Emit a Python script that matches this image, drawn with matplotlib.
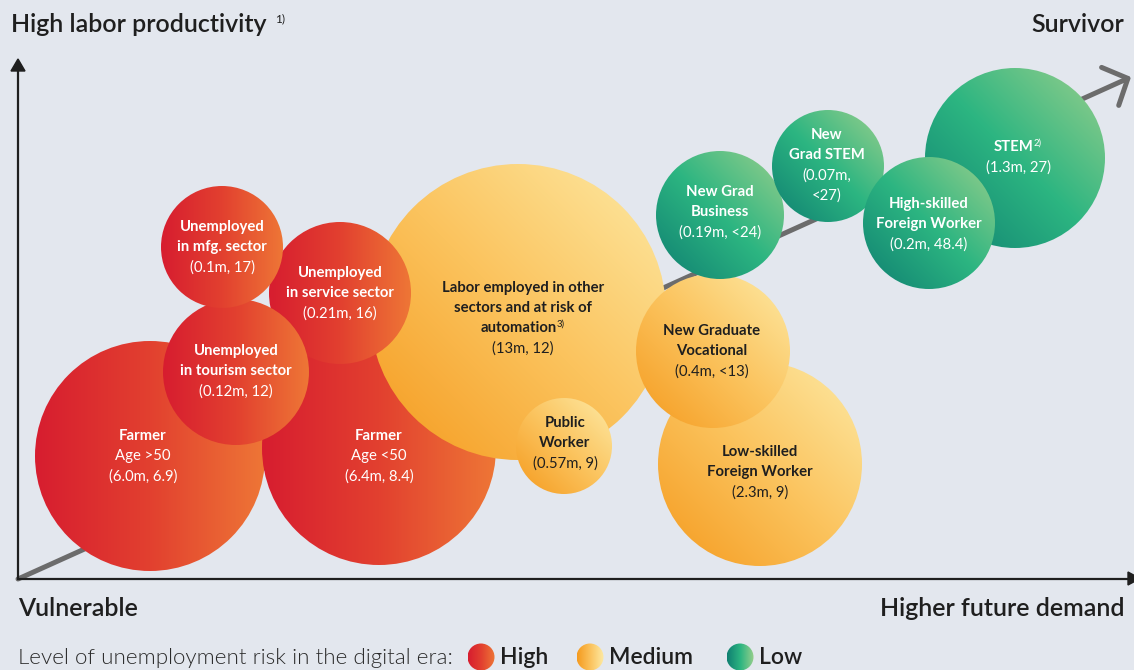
import numpy as np
import matplotlib
matplotlib.use("Agg")
import matplotlib.pyplot as plt
from matplotlib.patches import Circle, Polygon
from matplotlib.colors import LinearSegmentedColormap

plt.rcParams['font.family'] = ['Lato', 'DejaVu Sans']

# ---------------- data ----------------
names = ["Farmer Age >50", "Farmer Age <50", "Labor at risk of automation", "Public Worker",
         "Unemployed service", "Unemployed tourism", "Unemployed mfg.",
         "Low-skilled Foreign Worker", "New Graduate Vocational",
         "New Grad Business", "New Grad STEM", "STEM", "High-skilled Foreign Worker"]
bold_lines = [["Farmer"], ["Farmer"],
              ["Labor employed in other", "sectors and at risk of", "automation"],
              ["Public", "Worker"],
              ["Unemployed", "in service sector"], ["Unemployed", "in tourism sector"],
              ["Unemployed", "in mfg. sector"],
              ["Low-skilled", "Foreign Worker"], ["New Graduate", "Vocational"],
              ["New Grad", "Business"], ["New", "Grad STEM"], ["STEM"],
              ["High-skilled", "Foreign Worker"]]
regular_lines = [["Age >50", "(6.0m, 6.9)"], ["Age <50", "(6.4m, 8.4)"], ["(13m, 12)"],
                 ["(0.57m, 9)"], ["(0.21m, 16)"], ["(0.12m, 12)"], ["(0.1m, 17)"],
                 ["(2.3m, 9)"], ["(0.4m, <13)"], ["(0.19m, <24)"], ["(0.07m,", "<27)"],
                 ["(1.3m, 27)"], ["(0.2m, 48.4)"]]
footnotes = ["", "", "3)", "", "", "", "", "", "", "", "", "2)", ""]
risk = ["High", "High", "Medium", "Medium", "High", "High", "High",
        "Medium", "Medium", "Low", "Low", "Low", "Low"]
# bubble placement (pixel-like units)
bubble_x = [150, 379, 518, 564, 340, 236, 222, 760, 713, 720, 828, 1015, 929]
bubble_y = [456, 448, 312, 446, 293, 372, 247, 464, 351, 215, 166, 158, 223]
bubble_r = [115, 117, 148, 48, 71, 73, 61, 102, 77, 64, 56, 90, 66]
label_x = [143, 379, 523, 565, 340, 236, 222, 760, 712, 720, 827, 1018, 929]
label_y = [456, 456, 318, 443, 293, 371, 247, 472, 351, 212, 165, 157, 224]

legend_levels = ["High", "Medium", "Low"]

# ---------------- styles ----------------
BG = '#e3e7ee'
DARK = '#1f1f1f'
cmaps = {
    "High": LinearSegmentedColormap.from_list("h", ['#d71d30', '#e2402f', '#ee7636']),
    "Medium": LinearSegmentedColormap.from_list("m", ['#f59a1e', '#fbc35d', '#fdeaa5']),
    "Low": LinearSegmentedColormap.from_list("l", ['#0f7f71', '#2cb581', '#98cf8c']),
}
text_colors = {"High": 'white', "Medium": DARK, "Low": 'white'}

fig = plt.figure(figsize=(11.34, 6.70), dpi=100, facecolor=BG)
ax = fig.add_axes([0, 0, 1, 1])
ax.set_facecolor(BG)
ax.set_xlim(0, 1134)
ax.set_ylim(670, 0)
ax.axis('off')

N = 300
u = np.linspace(0, 1, N)[None, :].repeat(N, 0)
v = np.linspace(0, 1, N)[:, None].repeat(N, 1)


def grad(level, horizontal=False):
    if level == "High" or horizontal:
        t = u
    else:
        t = (u + (1 - v)) / 2
    return t


def gradient_circle(x, y, r, level, z, horizontal=False):
    circ = Circle((x, y), r, facecolor='none', edgecolor='none', zorder=z)
    ax.add_patch(circ)
    im = ax.imshow(grad(level, horizontal), cmap=cmaps[level], vmin=0, vmax=1,
                   extent=(x - r, x + r, y + r, y - r), origin='upper',
                   interpolation='bilinear', zorder=z, aspect='auto')
    im.set_clip_path(circ)


# trend arrow (behind bubbles)
ax.annotate('', xy=(1131, 77), xytext=(18, 579),
            arrowprops=dict(arrowstyle='->,head_length=0.7,head_width=0.75',
                            lw=3.6, color='#6c6c6c', shrinkA=0, shrinkB=0,
                            mutation_scale=20), zorder=1)

# axes
ax.plot([18, 18], [579, 68], color='#1f1f1f', lw=1.6, zorder=30, solid_capstyle='butt')
ax.add_patch(Polygon([(11, 71), (25, 71), (18, 59)], closed=True, color='#1f1f1f', zorder=30))
ax.plot([17, 1130], [578.5, 578.5], color='#1f1f1f', lw=1.6, zorder=30, solid_capstyle='butt')
ax.add_patch(Polygon([(1128, 572), (1128, 585), (1140, 578.5)], closed=True, color='#1f1f1f', zorder=30))

fig.canvas.draw()
renderer = fig.canvas.get_renderer()
inv = ax.transData.inverted()

LS = 20.3
FS = 10.7
for i in range(len(names)):
    z = 5 + i
    gradient_circle(bubble_x[i], bubble_y[i], bubble_r[i], risk[i], z)
    lines = [(t, 'bold') for t in bold_lines[i]] + [(t, 'normal') for t in regular_lines[i]]
    n = len(lines)
    y0 = label_y[i] - (n - 1) / 2 * LS
    col = text_colors[risk[i]]
    for k, (t, w) in enumerate(lines):
        yy = y0 + k * LS
        is_last_bold = (k == len(bold_lines[i]) - 1)
        txt = ax.text(label_x[i], yy, t, ha='center', va='center', fontsize=FS,
                      fontweight=w, color=col, zorder=z + 0.5)
        if footnotes[i] and is_last_bold:
            sup = ax.text(0, 0, footnotes[i], fontsize=6.8, color=col, zorder=z + 0.5,
                          ha='left', va='center')
            bb = txt.get_window_extent(renderer)
            sb = sup.get_window_extent(renderer)
            shift = sb.width / 2
            txt.set_x(label_x[i] - shift)
            right = inv.transform((bb.x1 - shift, bb.y1))[0]
            sup.set_position((right - 0.5, yy - 4))

# corner labels
HFS = 18
h = ax.text(11, 24, "High labor productivity", fontsize=HFS, fontweight='semibold', color=DARK,
            ha='left', va='center')
hb = h.get_window_extent(renderer)
hx = inv.transform((hb.x1, hb.y1))[0]
ax.text(hx + 9, 19, "1)", fontsize=8.5, color=DARK, ha='left', va='center')
ax.text(1124, 24, "Survivor", fontsize=HFS, fontweight='semibold', color=DARK, ha='right', va='center')
ax.text(18, 608, "Vulnerable", fontsize=HFS, fontweight='semibold', color=DARK, ha='left', va='center')
ax.text(1124, 608, "Higher future demand", fontsize=HFS, fontweight='semibold', color=DARK,
        ha='right', va='center')

# legend
ax.text(18, 658, "Level of unemployment risk in the digital era:", fontsize=16.1,
        fontweight=300, color='#2a2a2a', ha='left', va='center')
leg_x = [481, 590, 740]
for lx, lev in zip(leg_x, legend_levels):
    gradient_circle(lx, 657, 13.5, lev, 40, horizontal=True)
    ax.text(lx + 19, 657, lev, fontsize=16.5, fontweight='semibold', color=DARK,
            ha='left', va='center')

fig.savefig("out.png", dpi=100, facecolor=BG)
